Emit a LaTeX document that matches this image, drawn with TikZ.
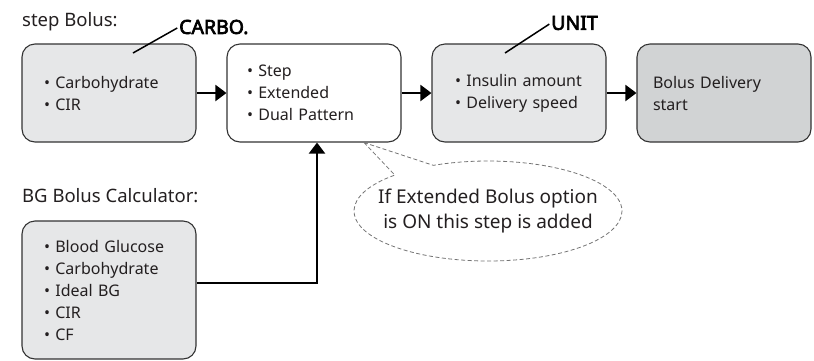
\documentclass[tikz,border=0pt]{standalone}
\usepackage{fontspec}
\setmainfont{Noto Sans}
\newfontfamily\tagfont{Noto Sans}[FakeBold=3.4]
\usetikzlibrary{arrows.meta,positioning,calc,shapes.callouts}

\definecolor{edgegray}{HTML}{333333}
\definecolor{fillgray}{HTML}{E6E7E8}
\definecolor{startgray}{HTML}{D1D3D4}
\definecolor{inkgray}{HTML}{231F20}

\begin{document}
\begin{tikzpicture}[
  x=1pt, y=-1pt,
  >={Triangle[length=11pt,width=16pt]},
  block/.style={draw=edgegray, line width=1.1pt, rounded corners=13pt,
    minimum width=174pt, minimum height=98pt, inner ysep=0pt,
    align=left, text=inkgray, font=\fontsize{16}{22}\selectfont},
  lbl/.style={anchor=west, inner sep=0pt, text=inkgray,
    font=\fontsize{18.5}{20}\selectfont},
  tag/.style={anchor=west, inner sep=0pt, text=black,
    font=\tagfont\fontsize{19.5}{22}\selectfont},
  flow/.style={->, line width=2pt, draw=black},
  leader/.style={line width=1.5pt, draw=black, shorten >=2pt},
  note/.style={ellipse callout, draw=black!55, dashed, line width=0.8pt,
    dash pattern=on 4pt off 2.5pt, callout pointer arc=20,
    minimum width=268pt, minimum height=100pt, inner xsep=-16pt, inner ysep=10pt,
    align=center, text=inkgray, font=\fontsize{19}{25}\selectfont}
]
\useasboundingbox (0,0) rectangle (814,360);

% top row: the step bolus path
\node[block, fill=fillgray, inner xsep=22pt, text width=130pt] (carb) at (109,93)
  {• Carbohydrate\\• CIR};
\node[block, fill=white, inner xsep=20pt, text width=134pt] (pattern) at (314,93)
  {• Step\\• Extended\\• Dual Pattern};
\node[block, fill=fillgray, inner xsep=23pt, text width=128pt] (unit) at (519,93)
  {• Insulin amount\\• Delivery speed};
\node[block, fill=startgray, inner xsep=16pt, text width=142pt] (start) at (724,93)
  {Bolus Delivery\\start};

% lower left: the BG calculator inputs
\node[block, fill=fillgray, inner xsep=22pt, text width=130pt, minimum height=138pt] (bgcalc) at (109,290)
  {• Blood Glucose\\• Carbohydrate\\• Ideal BG\\• CIR\\• CF};

% headings and screen tags
\node[lbl] (steplbl) at (22,22) {step Bolus:};
\node[lbl] (bglbl) at (22,196) {BG Bolus Calculator:};
\node[tag] (carbotag) at (179,27) {CARBO.};
\node[tag] (unittag) at (551,23) {UNIT};

\coordinate (carbofoot) at (133,53);
\coordinate (unitfoot) at (505,53);
\draw[leader] (carbofoot) -- (carbotag.west);
\draw[leader] (unitfoot) -- (unittag.west);

% flow arrows
\draw[flow] (carb) -- (pattern);
\draw[flow] (pattern) -- (unit);
\draw[flow] (unit) -- (start);
\draw[flow] ($(bgcalc.east)+(0,-7)$) -| ([xshift=3pt]pattern.south);

% optional step remark
\coordinate (notetip) at ([xshift=50pt]pattern.south);
\node[note, callout absolute pointer=(notetip)] (remark) at (488,211)
  {If Extended Bolus option\\is ON this step is added};

\end{tikzpicture}
\end{document}
